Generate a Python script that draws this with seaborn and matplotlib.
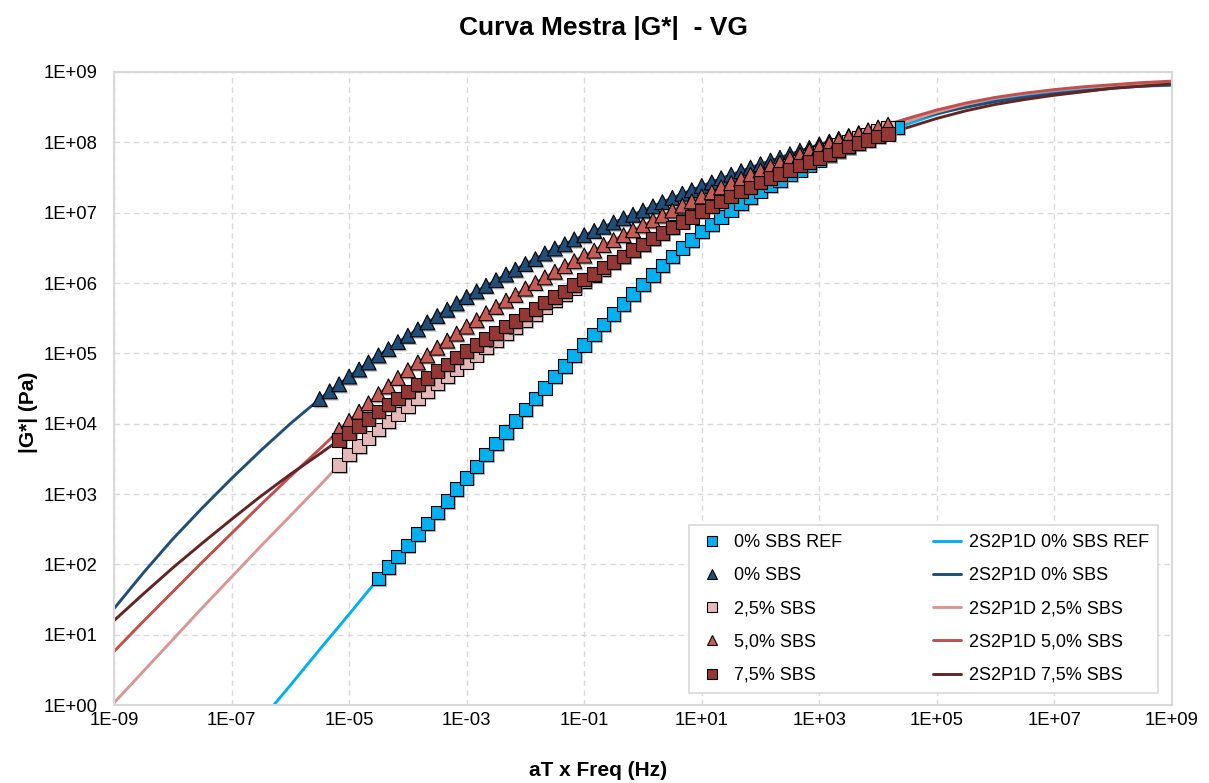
import numpy as np
import pandas as pd
import matplotlib
matplotlib.use("Agg")
import matplotlib.pyplot as plt
import matplotlib.patheffects as pe
from matplotlib.lines import Line2D
from matplotlib.ticker import FixedLocator, FuncFormatter, NullLocator
import seaborn as sns

# ---------------------------------------------------------------------------
# Measured master-curve points: log10(aT*f) [Hz] and log10|G*| [Pa]
# (None = no measurement at that reduced frequency)
# ---------------------------------------------------------------------------
log_af = [
    -5.50, -5.33, -5.17, -5.00, -4.83, -4.67, -4.50, -4.33, -4.17, -4.00,
    -3.83, -3.67, -3.50, -3.33, -3.17, -3.00, -2.83, -2.67, -2.50, -2.33,
    -2.17, -2.00, -1.83, -1.67, -1.50, -1.33, -1.17, -1.00, -0.83, -0.67,
    -0.50, -0.33, -0.17, 0.00, 0.17, 0.33, 0.50, 0.67, 0.83, 1.00,
    1.17, 1.33, 1.50, 1.67, 1.83, 2.00, 2.17, 2.33, 2.50, 2.67,
    2.83, 3.00, 3.17, 3.33, 3.50, 3.67, 3.83, 4.00, 4.17, 4.33,
]

log_g_ref = [
    None, None, None, None, None, None, 1.80, 1.96, 2.11, 2.27,
    2.43, 2.58, 2.74, 2.90, 3.07, 3.23, 3.39, 3.56, 3.72, 3.88,
    4.04, 4.20, 4.36, 4.51, 4.67, 4.82, 4.97, 5.12, 5.27, 5.41,
    5.56, 5.70, 5.84, 5.98, 6.11, 6.25, 6.38, 6.50, 6.61, 6.73,
    6.83, 6.94, 7.04, 7.13, 7.22, 7.31, 7.39, 7.46, 7.54, 7.61,
    7.68, 7.75, 7.81, 7.87, 7.93, 7.99, 8.04, 8.10, 8.15, 8.21,
]

log_g_sbs00 = [
    4.35, 4.46, 4.56, 4.67, 4.77, 4.87, 4.97, 5.06, 5.16, 5.25,
    5.34, 5.44, 5.53, 5.62, 5.71, 5.80, 5.88, 5.96, 6.04, 6.12,
    6.19, 6.27, 6.34, 6.42, 6.49, 6.55, 6.62, 6.68, 6.74, 6.80,
    6.86, 6.92, 6.97, 7.03, 7.09, 7.15, 7.21, 7.27, 7.32, 7.38,
    7.43, 7.49, 7.54, 7.59, 7.64, 7.69, 7.74, 7.78, 7.83, 7.88,
    7.92, 7.97, 8.01, 8.05, 8.09, 8.13, 8.16, 8.20, 8.24, None,
]

log_g_sbs25 = [
    None, None, 3.41, 3.56, 3.68, 3.80, 3.92, 4.03, 4.14, 4.25,
    4.36, 4.46, 4.57, 4.67, 4.78, 4.88, 4.98, 5.08, 5.18, 5.28,
    5.37, 5.47, 5.56, 5.66, 5.75, 5.84, 5.93, 6.02, 6.11, 6.20,
    6.29, 6.38, 6.46, 6.55, 6.63, 6.72, 6.80, 6.88, 6.96, 7.04,
    7.12, 7.19, 7.27, 7.34, 7.41, 7.48, 7.54, 7.61, 7.67, 7.73,
    7.79, 7.85, 7.90, 7.96, 8.01, 8.06, 8.11, 8.16, 8.21, None,
]

log_g_sbs50 = [
    None, None, 3.91, 4.04, 4.17, 4.29, 4.42, 4.53, 4.65, 4.76,
    4.87, 4.97, 5.08, 5.18, 5.28, 5.38, 5.47, 5.57, 5.66, 5.75,
    5.83, 5.92, 6.00, 6.08, 6.16, 6.24, 6.31, 6.39, 6.46, 6.54,
    6.61, 6.68, 6.75, 6.82, 6.89, 6.96, 7.03, 7.10, 7.16, 7.23,
    7.29, 7.36, 7.42, 7.48, 7.54, 7.60, 7.66, 7.71, 7.77, 7.82,
    7.88, 7.93, 7.98, 8.03, 8.08, 8.12, 8.17, 8.21, 8.25, None,
]

log_g_sbs75 = [
    None, None, 3.77, 3.87, 3.97, 4.07, 4.17, 4.27, 4.36, 4.46,
    4.56, 4.65, 4.75, 4.84, 4.94, 5.03, 5.12, 5.20, 5.29, 5.38,
    5.46, 5.55, 5.63, 5.72, 5.80, 5.88, 5.97, 6.05, 6.13, 6.22,
    6.30, 6.38, 6.47, 6.55, 6.63, 6.71, 6.79, 6.87, 6.94, 7.02,
    7.09, 7.16, 7.23, 7.30, 7.36, 7.43, 7.49, 7.55, 7.61, 7.67,
    7.72, 7.78, 7.83, 7.89, 7.94, 7.99, 8.03, 8.08, 8.12, None,
]

# ---------------------------------------------------------------------------
# 2S2P1D model curves, log10(aT*f) [Hz] and log10|G*| [Pa]
# ---------------------------------------------------------------------------
log_af_fit = [
    -9.0, -8.5, -8.0, -7.5, -7.0, -6.5, -6.0, -5.5, -5.0, -4.5,
    -4.0, -3.5, -3.0, -2.5, -2.0, -1.5, -1.0, -0.5, 0.0, 0.5,
    1.0, 1.5, 2.0, 2.5, 3.0, 3.5, 4.0, 4.5, 5.0, 5.5,
    6.0, 6.5, 7.0, 7.5, 8.0, 8.5, 9.0,
]

fit_ref = [
    None, None, None, None, -0.72, -0.22, 0.28, 0.79, 1.29, 1.80,
    2.27, 2.74, 3.23, 3.72, 4.20, 4.67, 5.12, 5.56, 5.98, 6.38,
    6.73, 7.04, 7.31, 7.54, 7.75, 7.93, 8.10, 8.26, 8.40, 8.52,
    8.61, 8.67, 8.72, 8.76, 8.79, 8.80, 8.81,
]

fit_sbs00 = [
    1.37, 1.88, 2.36, 2.80, 3.22, 3.62, 4.00, 4.35, 4.67, 4.97,
    5.25, 5.53, 5.80, 6.04, 6.27, 6.49, 6.68, 6.86, 7.03, 7.21,
    7.38, 7.54, 7.69, 7.83, 7.97, 8.09, 8.20, 8.31, 8.41, 8.50,
    8.58, 8.64, 8.69, 8.73, 8.77, 8.80, 8.82,
]

fit_sbs25 = [
    0.03, 0.48, 0.93, 1.38, 1.82, 2.26, 2.69, 3.12, 3.56, 3.92,
    4.25, 4.57, 4.88, 5.18, 5.47, 5.75, 6.02, 6.29, 6.55, 6.80,
    7.04, 7.27, 7.48, 7.67, 7.85, 8.01, 8.16, 8.30, 8.43, 8.54,
    8.63, 8.69, 8.74, 8.78, 8.81, 8.84, 8.86,
]

fit_sbs50 = [
    0.76, 1.19, 1.61, 2.03, 2.44, 2.85, 3.25, 3.64, 4.04, 4.42,
    4.76, 5.08, 5.38, 5.66, 5.92, 6.16, 6.39, 6.61, 6.82, 7.03,
    7.23, 7.42, 7.60, 7.77, 7.93, 8.08, 8.21, 8.34, 8.46, 8.56,
    8.64, 8.70, 8.75, 8.79, 8.82, 8.85, 8.87,
]

fit_sbs75 = [
    1.20, 1.58, 1.95, 2.30, 2.64, 2.97, 3.28, 3.57, 3.87, 4.17,
    4.46, 4.75, 5.03, 5.29, 5.55, 5.80, 6.05, 6.30, 6.55, 6.79,
    7.02, 7.23, 7.43, 7.61, 7.78, 7.94, 8.08, 8.21, 8.34, 8.45,
    8.54, 8.61, 8.67, 8.72, 8.77, 8.80, 8.83,
]

point_labels = ["0% SBS REF", "0% SBS", "2,5% SBS", "5,0% SBS", "7,5% SBS"]
fit_labels = ["2S2P1D 0% SBS REF", "2S2P1D 0% SBS", "2S2P1D 2,5% SBS",
              "2S2P1D 5,0% SBS", "2S2P1D 7,5% SBS"]

# ---------------------------------------------------------------------------
# Styling
# ---------------------------------------------------------------------------
marker_shapes = ["s", "^", "s", "^", "s"]
marker_sizes = [95, 115, 95, 115, 95]
marker_fills = ["#00B0F0", "#1F4E79", "#E6B9B8", "#C65B55", "#953735"]
line_colors = ["#00B0F0", "#1F4E79", "#D99694", "#C0504D", "#632523"]

sns.set_theme(style="white")
plt.rcParams["font.family"] = ["Liberation Sans", "DejaVu Sans"]
plt.rcParams["text.color"] = "black"
plt.rcParams["xtick.color"] = "black"
plt.rcParams["ytick.color"] = "black"

fig = plt.figure(figsize=(12.09, 7.83), dpi=100)
W, H = 1209, 783
ax = fig.add_axes([114 / W, 1 - 705 / H, (1172 - 114) / W, (705 - 72) / H])

# model curves (beneath the measured points)
fit_df = pd.DataFrame({"log_af": log_af_fit})
for lab, vals, col in zip(fit_labels,
                          [fit_ref, fit_sbs00, fit_sbs25, fit_sbs50, fit_sbs75],
                          line_colors):
    y = pd.to_numeric(pd.Series(vals), errors="coerce")
    d = pd.DataFrame({"f": 10.0 ** fit_df["log_af"], "g": 10.0 ** y}).dropna()
    sns.lineplot(data=d, x="f", y="g", color=col, linewidth=2.1,
                 estimator=None, sort=False, ax=ax, legend=False, zorder=2)

# measured points
shadow = [pe.SimplePatchShadow(offset=(1.3, -1.3), shadow_rgbFace="#7f7f7f",
                               alpha=0.55), pe.Normal()]
pts_df = pd.DataFrame({"log_af": log_af})
for lab, vals, mk, sz, fc in zip(point_labels,
                                 [log_g_ref, log_g_sbs00, log_g_sbs25,
                                  log_g_sbs50, log_g_sbs75],
                                 marker_shapes, marker_sizes, marker_fills):
    y = pd.to_numeric(pd.Series(vals), errors="coerce")
    d = pd.DataFrame({"f": 10.0 ** pts_df["log_af"], "g": 10.0 ** y}).dropna()
    sns.scatterplot(data=d, x="f", y="g", marker=mk, s=sz, color=fc,
                    edgecolor="black", linewidth=0.8, ax=ax, legend=False,
                    zorder=3)
    ax.collections[-1].set_path_effects(shadow)

# axes
ax.set_xscale("log")
ax.set_yscale("log")
ax.set_xlim(1e-9, 1e9)
ax.set_ylim(1e0, 1e9)
ax.xaxis.set_major_locator(FixedLocator([10.0 ** e for e in range(-9, 10, 2)]))
ax.yaxis.set_major_locator(FixedLocator([10.0 ** e for e in range(0, 10)]))
ax.xaxis.set_minor_locator(NullLocator())
ax.yaxis.set_minor_locator(NullLocator())
fmt = FuncFormatter(lambda v, p: "1E{:+03d}".format(int(round(np.log10(v)))))
ax.xaxis.set_major_formatter(fmt)
ax.yaxis.set_major_formatter(fmt)
ax.set_xlabel("")
ax.set_ylabel("")
ax.tick_params(axis="both", which="both", length=0, labelsize=13.3,
               labelcolor="black")
ax.tick_params(axis="x", pad=5)
ax.tick_params(axis="y", pad=12)
ax.grid(True, which="major", color="#D9D9D9", linestyle=(0, (4, 3)),
        linewidth=1.0)
ax.set_axisbelow(True)
for sp in ax.spines.values():
    sp.set_color("#D9D9D9")
    sp.set_linewidth(1.5)
    sp.set_visible(True)

# titles
fig.text(603 / W, 1 - 28 / H, "Curva Mestra |G*|  - VG", ha="center",
         va="center", fontsize=19, fontweight="bold", color="black")
fig.text(598 / W, 1 - 770 / H, "aT x Freq (Hz)", ha="center", va="center",
         fontsize=15, fontweight="bold", color="black")
fig.text(28 / W, 1 - 412 / H, "|G*| (Pa)", ha="center", va="center",
         rotation=90, fontsize=15, fontweight="bold", color="black")

# legend: measured points in the first column, model curves in the second
handles = []
for mk, fc in zip(marker_shapes, marker_fills):
    handles.append(Line2D([], [], linestyle="none", marker=mk, markersize=7.5,
                          markerfacecolor=fc, markeredgecolor="black",
                          markeredgewidth=0.8))
for col in line_colors:
    handles.append(Line2D([], [], color=col, linewidth=2.1))
leg = ax.legend(handles, point_labels + fit_labels, ncol=2,
                loc="lower right", bbox_to_anchor=(0.9868, 0.019),
                borderaxespad=0, fontsize=13, frameon=True, fancybox=False,
                edgecolor="#D9D9D9", framealpha=1, handlelength=1.55,
                handletextpad=0.45, columnspacing=5.0, labelspacing=0.9,
                borderpad=0.5)
leg.get_frame().set_linewidth(1.2)
for t in leg.get_texts():
    t.set_color("black")

fig.savefig("out.png", dpi=100)
